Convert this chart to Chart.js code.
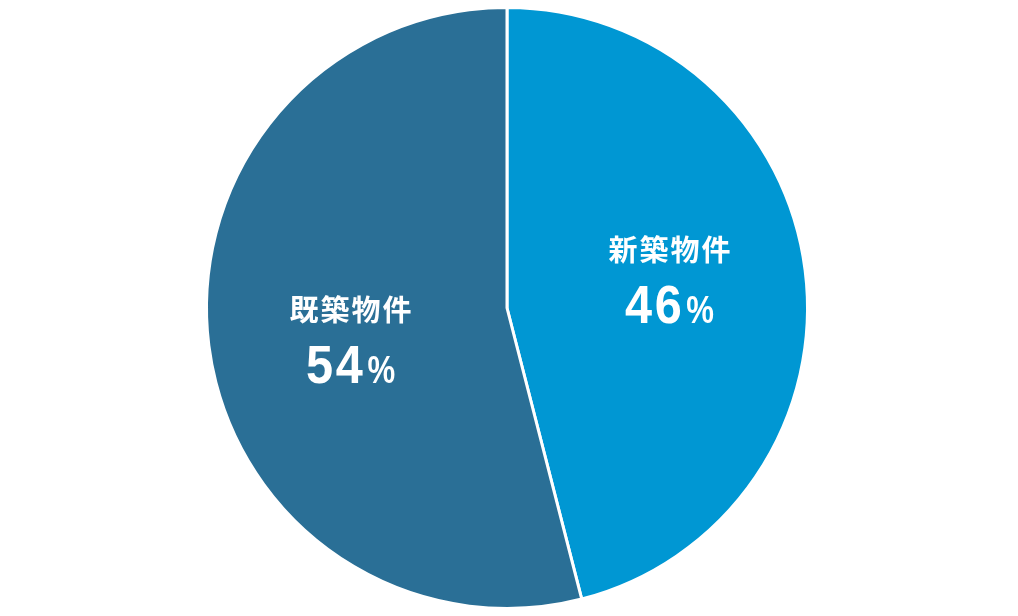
<!DOCTYPE html>
<html lang="ja">
<head>
    <meta charset="UTF-8">
    <title>新築物件・既築物件の割合</title>
    <style>
        html, body { margin: 0; padding: 0; background: #ffffff; }
        .chart-container { width: 1018px; height: 616px; position: relative; }
    </style>
</head>
<body>
    <div class="chart-container">
        <canvas id="pieChart"></canvas>
    </div>

    <script src="https://cdn.jsdelivr.net/npm/chart.js"></script>
    <script>
        // Data
        const categories = ['新築物件', '既築物件'];
        const shares = [46, 54];
        const sliceColors = ['#0097d3', '#2a6f96'];

        // Draws the category name and the percentage inside each slice
        const sliceLabels = {
            id: 'sliceLabels',
            afterDatasetsDraw(chart, args, opts) {
                const ctx = chart.ctx;
                const arcs = chart.getDatasetMeta(0).data;
                const numFont = 'bold 54px "Liberation Sans", Arial, sans-serif';
                const pctFont = 'bold 38px "Liberation Sans", Arial, sans-serif';
                const squeeze = 0.9; // digits in the reference are condensed
                arcs.forEach((arc, i) => {
                    const p = arc.getProps(['x', 'y', 'startAngle', 'endAngle', 'outerRadius'], true);
                    const mid = (p.startAngle + p.endAngle) / 2;
                    const shift = opts.shift[i] || [0, 0];
                    const ax = p.x + Math.cos(mid) * p.outerRadius * opts.radius + shift[0];
                    const ay = p.y + Math.sin(mid) * p.outerRadius * opts.radius + shift[1];

                    ctx.save();
                    ctx.fillStyle = '#ffffff';
                    ctx.textAlign = 'center';

                    // category name
                    ctx.font = 'bold 29px "Noto Sans CJK JP", sans-serif';
                    ctx.letterSpacing = '2px';
                    ctx.textBaseline = 'middle';
                    ctx.fillText(chart.data.labels[i], ax + 1, ay - 37);

                    // percentage: big condensed digits + smaller % sign
                    ctx.textBaseline = 'alphabetic';
                    ctx.textAlign = 'left';
                    const num = String(chart.data.datasets[0].data[i]);
                    ctx.letterSpacing = '3px';
                    ctx.font = numFont;
                    const numW = ctx.measureText(num).width * squeeze;
                    ctx.letterSpacing = '0px';
                    ctx.font = pctFont;
                    const pctW = ctx.measureText('%').width * 0.82;
                    const gap = 2;
                    const left = ax - (numW + gap + pctW) / 2;
                    const base = ay + 36;

                    ctx.save();
                    ctx.translate(left, base);
                    ctx.scale(squeeze, 1);
                    ctx.letterSpacing = '3px';
                    ctx.font = numFont;
                    ctx.fillText(num, 0, 0);
                    ctx.restore();

                    ctx.save();
                    ctx.translate(left + numW + gap, base);
                    ctx.scale(0.82, 1);
                    ctx.letterSpacing = '0px';
                    ctx.font = pctFont;
                    ctx.fillText('%', 0, 0);
                    ctx.restore();

                    ctx.restore();
                });
            }
        };

        const ctxPie = document.getElementById('pieChart').getContext('2d');
        const pieChart = new Chart(ctxPie, {
            type: 'pie',
            data: {
                labels: categories,
                datasets: [{
                    data: shares,
                    backgroundColor: sliceColors,
                    borderColor: '#ffffff',
                    borderWidth: 3
                }]
            },
            options: {
                responsive: true,
                maintainAspectRatio: false,
                animation: false,
                layout: {
                    padding: { top: 6, bottom: 6, left: 0, right: 4 }
                },
                plugins: {
                    legend: { display: false },
                    tooltip: { enabled: false },
                    sliceLabels: {
                        radius: 0.545,
                        shift: [[0, 0], [6, 18]]
                    }
                }
            },
            plugins: [sliceLabels]
        });
    </script>
</body>
</html>
